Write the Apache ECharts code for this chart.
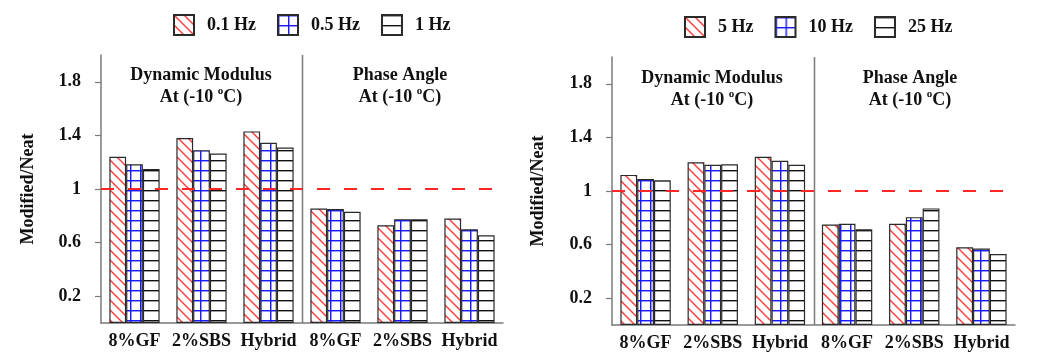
<!DOCTYPE html>
<html>
<head>
<meta charset="utf-8">
<script src="https://cdn.jsdelivr.net/npm/echarts@6/dist/echarts.min.js"></script>
<style>
  html, body { margin: 0; padding: 0; background: #fff; }
  #chart { width: 1040px; height: 354px; }
</style>
</head>
<body>
<div id="chart"></div>
<script>
// Mixtures on the x axis: first three = dynamic modulus, last three = phase angle
const categories = ['8%GF', '2%SBS', 'Hybrid', '8%GF', '2%SBS', 'Hybrid'];
const yTickValues = [0.2, 0.6, 1, 1.4, 1.8];
const referenceLevel = 1;
const dividerAfter = 2; // last dynamic-modulus category

// Low-frequency panel (Modified/Neat ratios)
const lowFreqNames = ['0.1 Hz', '0.5 Hz', '1 Hz'];
const hz01 = [1.24, 1.38, 1.43, 0.855, 0.73, 0.78];
const hz05 = [1.185, 1.29, 1.345, 0.85, 0.775, 0.70];
const hz1  = [1.15, 1.265, 1.31, 0.83, 0.775, 0.655];

// High-frequency panel (Modified/Neat ratios)
const highFreqNames = ['5 Hz', '10 Hz', '25 Hz'];
const hz5  = [1.12, 1.215, 1.255, 0.75, 0.755, 0.58];
const hz10 = [1.09, 1.195, 1.225, 0.755, 0.805, 0.57];
const hz25 = [1.08, 1.20, 1.195, 0.715, 0.87, 0.53];

const FONT = "'Liberation Serif', 'Times New Roman', serif";
const AXIS_GRAY = '#7a7a7a';

// Fill patterns for the three bar styles
function makePattern(draw) {
  const c = document.createElement('canvas');
  c.width = 10; c.height = 10;
  const g = c.getContext('2d');
  g.fillStyle = '#fff';
  g.fillRect(0, 0, 10, 10);
  draw(g);
  return { image: c, repeat: 'repeat' };
}
const diagonalFill = makePattern(g => {
  g.strokeStyle = '#ff3a3a';
  g.lineWidth = 1.4;
  g.beginPath();
  g.moveTo(-2, -2); g.lineTo(12, 12);
  g.moveTo(-2, 8); g.lineTo(2, 12);
  g.moveTo(8, -2); g.lineTo(12, 2);
  g.stroke();
});
const gridFill = makePattern(g => {
  g.fillStyle = '#1a1aff';
  g.fillRect(0, 0, 10, 1);
  g.fillRect(0, 0, 1, 10);
  g.fillStyle = 'rgba(26,26,255,0.45)';
  g.fillRect(0, 1, 10, 1);
  g.fillRect(1, 0, 1, 10);
});
const lineFill = makePattern(g => {
  g.fillStyle = '#111';
  g.fillRect(0, 0, 10, 1);
  g.fillStyle = 'rgba(17,17,17,0.4)';
  g.fillRect(0, 1, 10, 1);
});
const fills = [diagonalFill, gridFill, lineFill];

function barSeries(name, data, panel, k) {
  const s = {
    name, type: 'bar', data,
    xAxisIndex: panel, yAxisIndex: panel,
    barGap: '0%', barCategoryGap: '25%',
    itemStyle: { color: fills[k], borderColor: '#2a2a2a', borderWidth: 1.2 },
    emphasis: { disabled: true },
    silent: true
  };
  if (k === 0) {
    s.markLine = {
      silent: true, symbol: 'none', label: { show: false },
      lineStyle: { color: '#ff2626', type: [13, 14], width: 2 },
      data: [{ yAxis: referenceLevel }]
    };
  }
  return s;
}

const labelFont = { fontFamily: FONT, fontWeight: 'bold', fontSize: 18, color: '#111' };

function xAxisFor(panel) {
  return {
    gridIndex: panel, type: 'category', data: categories,
    axisTick: { show: false },
    axisLine: { lineStyle: { color: AXIS_GRAY, width: 1.5 } },
    axisLabel: Object.assign({ margin: 9, interval: 0 }, labelFont),
    splitLine: { show: false }
  };
}
function yAxisFor(panel, gap) {
  return {
    gridIndex: panel, type: 'value', min: 0, max: 2,
    name: 'Modified/Neat', nameLocation: 'middle', nameRotate: 90, nameGap: gap,
    nameTextStyle: labelFont,
    axisLine: { show: true, lineStyle: { color: AXIS_GRAY, width: 1.5 } },
    axisTick: { show: true, customValues: yTickValues, length: 6, lineStyle: { color: AXIS_GRAY, width: 1.2 } },
    axisLabel: Object.assign({ customValues: yTickValues, margin: 20 }, labelFont),
    splitLine: { show: false }
  };
}
function legendFor(names, left, top) {
  return {
    data: names, left, top, icon: 'rect', padding: 0,
    itemWidth: 20, itemHeight: 20, itemGap: 21,
    selectedMode: false,
    textStyle: Object.assign({ padding: [0, 0, 0, 8] }, labelFont)
  };
}

const titleRich = {
  t: { fontFamily: FONT, fontWeight: 'bold', fontSize: 18, lineHeight: 22, fill: '#111' },
  s: { fontFamily: FONT, fontWeight: 'bold', fontSize: 11, lineHeight: 22, verticalAlign: 'top', fill: '#111' }
};
function panelTitle(text, x, y) {
  return {
    type: 'text', x, y, silent: true,
    style: {
      text: '{t|' + text + '}\n{t|At (-10 }{s|o}{t|C)}',
      rich: titleRich, align: 'center', verticalAlign: 'middle'
    }
  };
}

const chart = echarts.init(document.getElementById('chart'), null, { renderer: 'canvas' });
const titles = [
  panelTitle('Dynamic Modulus', 201, 86),
  panelTitle('Phase Angle', 400, 86),
  panelTitle('Dynamic Modulus', 712, 89),
  panelTitle('Phase Angle', 910, 89)
];
chart.setOption({
  animation: false,
  backgroundColor: '#fff',
  grid: [
    { left: 101, top: 55, width: 402, height: 268 },
    { left: 612, top: 57, width: 403, height: 268 }
  ],
  legend: [legendFor(lowFreqNames, 173, 14), legendFor(highFreqNames, 684, 16)],
  xAxis: [xAxisFor(0), xAxisFor(1)],
  yAxis: [yAxisFor(0, 64), yAxisFor(1, 65)],
  graphic: titles,
  series: [
    barSeries(lowFreqNames[0], hz01, 0, 0),
    barSeries(lowFreqNames[1], hz05, 0, 1),
    barSeries(lowFreqNames[2], hz1, 0, 2),
    barSeries(highFreqNames[0], hz5, 1, 0),
    barSeries(highFreqNames[1], hz10, 1, 1),
    barSeries(highFreqNames[2], hz25, 1, 2)
  ]
});

// Vertical divider between the two groups, placed on the category boundary
function divider(panel) {
  const xa = chart.convertToPixel({ xAxisIndex: panel }, dividerAfter);
  const xb = chart.convertToPixel({ xAxisIndex: panel }, dividerAfter + 1);
  const yTop = chart.convertToPixel({ yAxisIndex: panel }, 2);
  const yBottom = chart.convertToPixel({ yAxisIndex: panel }, 0);
  const x = Math.round((xa + xb) / 2) + 0.5;
  return {
    type: 'line', silent: true, z: 1,
    shape: { x1: x, y1: yTop, x2: x, y2: yBottom },
    style: { stroke: AXIS_GRAY, lineWidth: 1.5 }
  };
}
chart.setOption({ graphic: titles.concat([divider(0), divider(1)]) });
</script>
</body>
</html>
